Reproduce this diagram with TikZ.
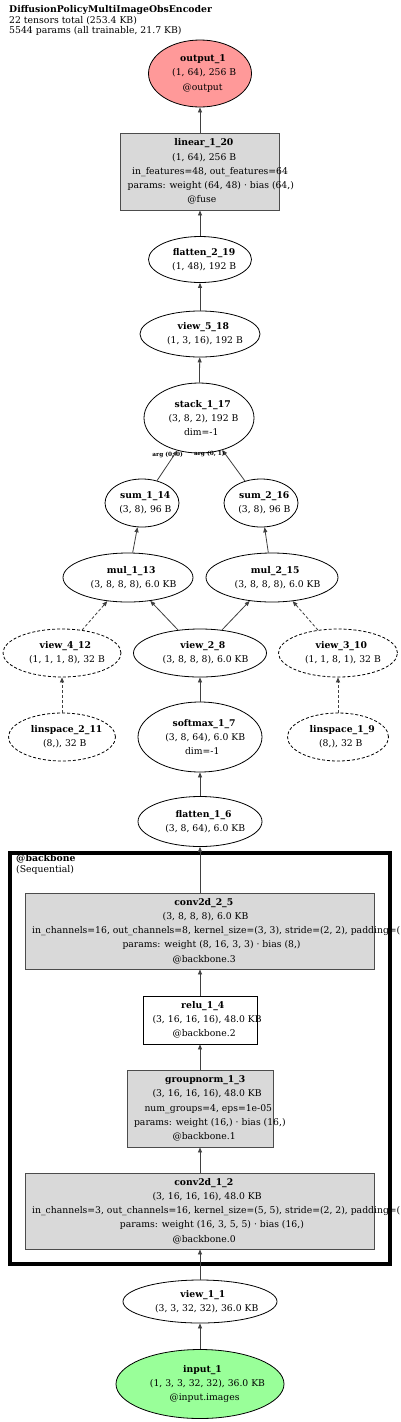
\documentclass[tikz,border=0pt]{standalone}
\usepackage{fontspec}
\setmainfont{DejaVu Serif}
\usetikzlibrary{shapes.geometric,arrows.meta}
\definecolor{outfill}{HTML}{FF9999}
\definecolor{infill}{HTML}{99FF99}
\definecolor{opfill}{HTML}{D9D9D9}
\definecolor{edgecol}{HTML}{404040}
\newcommand\gl[1]{\makebox[0.87\width][l]{#1}}
\begin{document}
\begin{tikzpicture}[x=1pt,y=-1pt,
  lbl/.style={font=\fontsize{9.25}{14.2}\selectfont, align=center, inner sep=0pt},
  ell/.style={lbl, ellipse, draw=black, line width=0.8pt},
  dell/.style={ell, dash pattern=on 3pt off 2pt},
  opbox/.style={lbl, rectangle, draw=black!70, line width=0.9pt, fill=opfill},
  wbox/.style={lbl, rectangle, draw=black, line width=0.8pt, fill=white},
  edge/.style={draw=edgecol, line width=0.8pt, -{Triangle[length=5pt,width=4pt]}},
  dedge/.style={edge, dash pattern=on 3pt off 2pt},
  arglbl/.style={font=\fontsize{5.8}{6}\selectfont\bfseries, inner sep=0pt},
  ttl/.style={font=\fontsize{9.3}{10.5}\selectfont, align=left, anchor=north west, inner sep=0pt},
]
\useasboundingbox (0,0) rectangle (400,1422);
\fill[white] (0,0) rectangle (400,1422);

\node[ttl] (title) at (9,5.5) {\textbf{DiffusionPolicyMultiImageObsEncoder}\\22 tensors total (253.4 KB)\\5544 params (all trainable, 21.7 KB)};

\node[ell, fill=outfill, minimum width=103, minimum height=67] (output1) at (200,73.5)
  {\gl{\textbf{output\_1}}\\\gl{(1, 64), 256 B}\\\gl{@output}};
\node[opbox, minimum width=159, minimum height=77] (linear) at (200,171.5)
  {\gl{\textbf{linear\_1\_20}}\\\gl{(1, 64), 256 B}\\\gl{in\_features=48, out\_features=64}\\\gl{params: weight (64, 48) · bias (64,)}\\\gl{@fuse}};
\node[ell, minimum width=103, minimum height=46] (flatten2) at (200,259.5)
  {\gl{\textbf{flatten\_2\_19}}\\\gl{(1, 48), 192 B}};
\node[ell, minimum width=120, minimum height=46] (view5) at (200,334)
  {\gl{\textbf{view\_5\_18}}\\\gl{(1, 3, 16), 192 B}};
\node[ell, minimum width=110, minimum height=70] (stack) at (199,418)
  {\gl{\textbf{stack\_1\_17}}\\\gl{(3, 8, 2), 192 B}\\\gl{dim=-1}};
\node[ell, minimum width=74, minimum height=48] (sum1) at (142,503)
  {\gl{\textbf{sum\_1\_14}}\\\gl{(3, 8), 96 B}};
\node[ell, minimum width=74, minimum height=48] (sum2) at (261,503)
  {\gl{\textbf{sum\_2\_16}}\\\gl{(3, 8), 96 B}};
\node[ell, minimum width=130, minimum height=49] (mul1) at (128,577.5)
  {\gl{\textbf{mul\_1\_13}}\\\gl{(3, 8, 8, 8), 6.0 KB}};
\node[ell, minimum width=132, minimum height=49] (mul2) at (272,577.5)
  {\gl{\textbf{mul\_2\_15}}\\\gl{(3, 8, 8, 8), 6.0 KB}};
\node[dell, minimum width=118, minimum height=48] (view4) at (62,653)
  {\gl{\textbf{view\_4\_12}}\\\gl{(1, 1, 1, 8), 32 B}};
\node[ell, minimum width=133, minimum height=48] (view2) at (200,653)
  {\gl{\textbf{view\_2\_8}}\\\gl{(3, 8, 8, 8), 6.0 KB}};
\node[dell, minimum width=119, minimum height=48] (view3) at (338,653)
  {\gl{\textbf{view\_3\_10}}\\\gl{(1, 1, 8, 1), 32 B}};
\node[dell, minimum width=107, minimum height=48] (lin2) at (62,737)
  {\gl{\textbf{linspace\_2\_11}}\\\gl{(8,), 32 B}};
\node[ell, minimum width=124, minimum height=70] (softmax) at (200,737)
  {\gl{\textbf{softmax\_1\_7}}\\\gl{(3, 8, 64), 6.0 KB}\\\gl{dim=-1}};
\node[dell, minimum width=101, minimum height=48] (lin1) at (338,737)
  {\gl{\textbf{linspace\_1\_9}}\\\gl{(8,), 32 B}};
\node[ell, minimum width=124, minimum height=50] (flatten1) at (200,821.5)
  {\gl{\textbf{flatten\_1\_6}}\\\gl{(3, 8, 64), 6.0 KB}};

\node[draw=black, line width=4pt, minimum width=380, minimum height=411, inner sep=0pt] (backbone) at (200,1058.5) {};
\node[ttl] (bblabel) at (16,854.5) {\textbf{@backbone}\\(Sequential)};

\node[opbox, minimum width=349, minimum height=76] (conv2) at (200,931)
  {\gl{\textbf{conv2d\_2\_5}}\\\gl{(3, 8, 8, 8), 6.0 KB}\\\gl{in\_channels=16, out\_channels=8, kernel\_size=(3, 3), stride=(2, 2), padding=(\phantom{1, 1}}\\\gl{params: weight (8, 16, 3, 3) · bias (8,)}\\\gl{@backbone.3}};
\node[wbox, minimum width=114, minimum height=48] (relu) at (200,1020)
  {\gl{\textbf{relu\_1\_4}}\\\gl{(3, 16, 16, 16), 48.0 KB}\\\gl{@backbone.2}};
\node[opbox, minimum width=146, minimum height=77] (gn) at (200,1108.5)
  {\gl{\textbf{groupnorm\_1\_3}}\\\gl{(3, 16, 16, 16), 48.0 KB}\\\gl{num\_groups=4, eps=1e-05}\\\gl{params: weight (16,) · bias (16,)}\\\gl{@backbone.1}};
\node[opbox, minimum width=349, minimum height=76] (conv1) at (200,1211)
  {\gl{\textbf{conv2d\_1\_2}}\\\gl{(3, 16, 16, 16), 48.0 KB}\\\gl{in\_channels=3, out\_channels=16, kernel\_size=(5, 5), stride=(2, 2), padding=(\phantom{1, 1}}\\\gl{params: weight (16, 3, 5, 5) · bias (16,)}\\\gl{@backbone.0}};

\node[ell, minimum width=154, minimum height=43] (view1) at (200,1301.5)
  {\gl{\textbf{view\_1\_1}}\\\gl{(3, 3, 32, 32), 36.0 KB}};
\node[ell, fill=infill, minimum width=168, minimum height=69] (input1) at (200,1384)
  {\gl{\textbf{input\_1}}\\\gl{(1, 3, 3, 32, 32), 36.0 KB}\\\gl{@input.images}};

\draw[edge] (input1) -- (view1);
\draw[edge] (view1) -- (conv1);
\draw[edge] (conv1) -- (gn);
\draw[edge] (gn) -- (relu);
\draw[edge] (relu) -- (conv2);
\draw[edge] (conv2) -- (flatten1);
\draw[edge] (flatten1) -- (softmax);
\draw[edge] (softmax) -- (view2);
\draw[edge] (view2) -- (mul1);
\draw[edge] (view2) -- (mul2);
\draw[dedge] (lin2) -- (view4);
\draw[dedge] (view4) -- (mul1);
\draw[dedge] (lin1) -- (view3);
\draw[dedge] (view3) -- (mul2);
\draw[edge] (mul1) -- (sum1);
\draw[edge] (mul2) -- (sum2);
\draw[edge] (sum1) -- node[arglbl, pos=1, xshift=-9.5pt, yshift=-4pt] (arg00) {arg (0, 0)} (stack);
\draw[edge] (sum2) -- node[arglbl, pos=1, xshift=-13pt, yshift=-4pt] (arg01) {arg (0, 1)} (stack);
\draw[edge] (stack) -- (view5);
\draw[edge] (view5) -- (flatten2);
\draw[edge] (flatten2) -- (linear);
\draw[edge] (linear) -- (output1);
\end{tikzpicture}
\end{document}
